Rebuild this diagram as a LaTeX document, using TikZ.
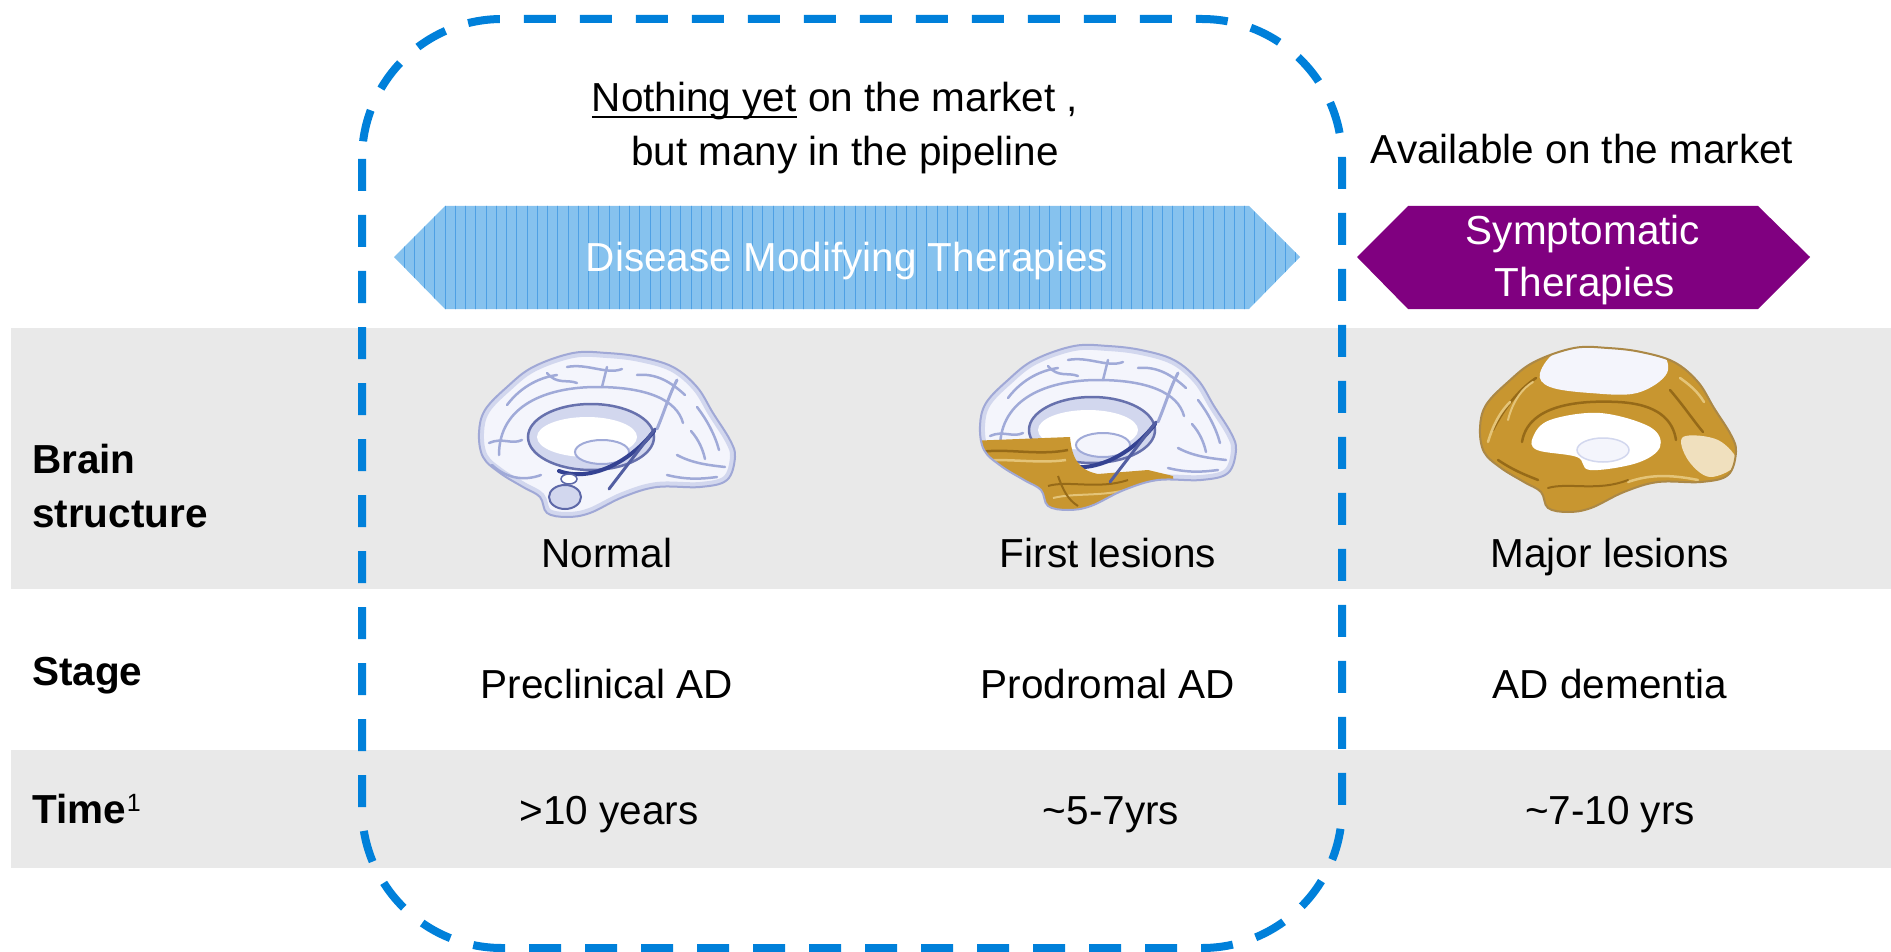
\documentclass[tikz,border=0pt]{standalone}
\usepackage{fontspec}
\setmainfont{Liberation Sans}
\definecolor{bandgray}{RGB}{233,233,233}
\definecolor{dashblue}{RGB}{0,128,218}
\definecolor{dmtfill}{RGB}{134,194,238}
\definecolor{dmtline}{RGB}{78,160,228}
\definecolor{sympurple}{RGB}{128,0,128}
\definecolor{brainwhite}{RGB}{244,245,252}
\definecolor{brainedge}{RGB}{160,168,214}
\definecolor{braingyri}{RGB}{160,170,216}
\definecolor{braindark}{RGB}{52,66,146}
\definecolor{brainmid}{RGB}{210,215,238}
\definecolor{goldA}{RGB}{200,150,48}
\definecolor{goldD}{RGB}{150,106,24}
\definecolor{goldL}{RGB}{228,196,120}
\definecolor{creamA}{RGB}{240,224,190}
\newsavebox\ulbox
\newcommand\myul[1]{\sbox\ulbox{#1}\rlap{\rule[-6.5pt]{\wd\ulbox}{2.5pt}}\usebox\ulbox}
\tikzset{
  brainshape/.style={insert path={plot[smooth cycle,tension=0.6] coordinates{(-128,-2) (-122,-25) (-100,-48) (-74,-68) (-34,-82) (0,-82) (33,-78) (66,-68) (90,-48) (106,-22) (123,5) (128,22) (120,45) (93,52) (50,52) (16,62) (-17,78) (-40,82) (-60,78) (-67,62) (-84,52) (-107,38) (-124,22)}}},
  gyrus/.style={braingyri, line width=2.5pt, line cap=round},
  txt/.style={font=\fontsize{40.5}{50}\selectfont, inner sep=0pt, anchor=base},
  lbl/.style={font=\fontsize{40.5}{50}\selectfont\bfseries, inner sep=0pt, anchor=base west},
}
\newcommand\brainbg{\fill[brainwhite,brainshape];
  \begin{scope}\clip[brainshape]; \draw[brainmid, line width=10pt, brainshape];\end{scope}}
\newcommand\braingyrilines{%
  \draw[gyrus] (-100,-30) .. controls (-85,-50) and (-65,-58) .. (-50,-60);
  \draw[gyrus] (-40,-68) .. controls (-20,-72) and (0,-60) .. (15,-66);
  \draw[gyrus] (30,-60) .. controls (50,-62) and (65,-52) .. (78,-40);
  \draw[gyrus] (90,-28) .. controls (100,-15) and (108,0) .. (112,15);
  \draw[gyrus] (-118,8) .. controls (-105,2) and (-95,10) .. (-85,5);
  \draw[gyrus] (70,20) .. controls (85,28) and (100,30) .. (118,32);
  \draw[gyrus] (60,40) .. controls (80,45) and (95,44) .. (110,42);
  \draw[gyrus] (-108,20) .. controls (-108,-30) and (-60,-48) .. (-10,-48) .. controls (40,-48) and (70,-35) .. (76,-12);
  \draw[gyrus] (-5,-48) -- (0,-68);
  \draw[gyrus] (-115,30) .. controls (-100,44) and (-82,46) .. (-66,40);
  \draw[gyrus] (-60,-62) .. controls (-50,-50) and (-40,-56) .. (-30,-52);
  \draw[gyrus] (84,-4) .. controls (92,5) and (96,15) .. (98,24);
}
\newcommand\braincc{%
  \filldraw[fill=brainmid, draw=braindark!75, line width=2.5pt] (-16,2) ellipse [x radius=63pt, y radius=33pt];
  \fill[white] (-20,2) ellipse [x radius=50pt, y radius=20pt];
  \filldraw[fill=brainwhite, draw=braingyri, line width=2pt] (-5,17) ellipse [x radius=27pt, y radius=12pt];
}
\newcommand\brainlow{%
  \draw[braindark, line width=4pt, line cap=round] (-48,36) .. controls (-15,48) and (25,25) .. (47,-4);
  \draw[braingyri, line width=3pt, line cap=round] (50,-6) .. controls (58,-25) and (62,-40) .. (70,-55);
  \filldraw[fill=brainmid, draw=braindark!80, line width=2pt] (-42,62) ellipse [x radius=16pt, y radius=12pt];
  \filldraw[fill=white, draw=braindark!80, line width=1.5pt] (-38,44) ellipse [x radius=8pt, y radius=5pt];
}
\newcommand\braindiag{\draw[braindark!85, line width=3pt, line cap=round] (2,54) -- (48,-6);}
\newcommand\brainrim{\draw[brainedge, line width=2pt, brainshape];}
\begin{document}
\begin{tikzpicture}[x=1pt,y=-1pt]
\useasboundingbox (0,0) rectangle (1891,952);
% grey bands
\fill[bandgray] (11,328) rectangle (1891,589);
\fill[bandgray] (11,750) rectangle (1891,868);
% disease modifying therapies arrow
\fill[dmtfill] (394,257) -- (445,206) -- (1249,206) -- (1300,257) -- (1249,309) -- (445,309) -- cycle;
\begin{scope}
  \clip (394,257) -- (445,206) -- (1249,206) -- (1300,257) -- (1249,309) -- (445,309) -- cycle;
  \foreach \i in {-5,...,84} \draw[dmtline, line width=1pt] ({445+\i*10.25},200) -- ++(0,115);
\end{scope}
% symptomatic therapies arrow
\fill[sympurple] (1357,257) -- (1408,206) -- (1758,206) -- (1810,257) -- (1758,309) -- (1408,309) -- cycle;
% normal brain
\begin{scope}[shift={(607,435)}]
  \brainbg \braingyrilines \braincc \brainlow \braindiag \brainrim
\end{scope}
% first lesions brain
\begin{scope}[shift={(1108,428)}]
  \brainbg \braingyrilines \braincc \brainlow
  \begin{scope}
    \clip[brainshape];
    \fill[goldA] (-140,13) -- (-38,9) .. controls (-36,30) and (-30,42) .. (-10,46) -- (40,42) -- (65,48) -- (70,100) -- (-140,100) -- cycle;
    \draw[goldD, line width=2.5pt] (-128,24) .. controls (-100,20) and (-70,28) .. (-40,22);
    \draw[goldL, line width=2.5pt] (-126,33) .. controls (-100,30) and (-70,36) .. (-42,32);
    \draw[goldD, line width=2pt] (-60,58) .. controls (-40,52) and (-10,62) .. (20,52);
    \draw[goldL, line width=2pt] (-55,70) .. controls (-30,64) and (0,70) .. (30,58);
    \draw[goldD, line width=2pt] (-50,48) .. controls (-45,62) and (-40,72) .. (-30,78);
  \end{scope}
  \braindiag \brainrim
\end{scope}
% major lesions brain
\begin{scope}[shift={(1608,430)}]
  \fill[goldA, brainshape];
  \begin{scope}
    \clip[brainshape];
    \fill[brainwhite] plot[smooth cycle, tension=0.6] coordinates{(-68,-57) (-48,-80) (0,-86) (49,-80) (59,-57) (29,-37) (-18,-37) (-58,-43)};
    \fill[creamA] plot[smooth cycle, tension=0.6] coordinates{(75,7) (110,10) (129,33) (102,47) (80,30)};
    \draw[goldD, line width=2.5pt, line cap=round] (-115,0) .. controls (-105,-20) and (-90,-40) .. (-72,-52);
    \draw[goldD, line width=2.5pt, line cap=round] (-110,30) .. controls (-95,40) and (-85,44) .. (-70,50);
    \draw[goldD, line width=2.5pt, line cap=round] (-86,12) .. controls (-80,-25) and (-30,-30) .. (10,-28) .. controls (50,-26) and (65,-10) .. (68,10);
    \draw[goldD, line width=2.5pt, line cap=round] (62,-40) .. controls (75,-25) and (85,-10) .. (95,2);
    \draw[goldL, line width=2.5pt, line cap=round] (-120,12) .. controls (-115,-5) and (-108,-18) .. (-98,-28);
    \draw[goldL, line width=2.5pt, line cap=round] (72,-52) .. controls (82,-45) and (90,-38) .. (96,-28);
    \draw[goldL, line width=2.5pt, line cap=round] (20,52) .. controls (40,45) and (60,44) .. (90,50);
    \draw[goldD, line width=2pt, line cap=round] (-60,58) .. controls (-40,52) and (-10,62) .. (20,50);
    \draw[goldL, line width=2pt, line cap=round] (-100,-10) .. controls (-95,-30) and (-85,-42) .. (-75,-48);
  \end{scope}
  \fill[white] plot[smooth cycle, tension=0.6] coordinates{(-75,7) (-58,-10) (-8,-17) (42,-3) (52,17) (29,33) (-18,40) (-31,27) (-71,20)};
  \filldraw[fill=brainwhite, draw=brainmid, line width=1.5pt] (-5,20) ellipse [x radius=26pt, y radius=12pt];
  \draw[goldD!80, line width=2pt, brainshape];
\end{scope}
% texts
\node[txt] (topline1) at (835,112) {\myul{Nothing yet} on the market ,};
\node[txt] (topline2) at (845,166) {but many in the pipeline};
\node[txt] (avail) at (1582,164) {Available on the market};
\node[txt, white] (dmt) at (847,272) {Disease Modifying Therapies};
\node[txt, white] (sym1) at (1583,245) {Symptomatic};
\node[txt, white] (sym2) at (1585,297) {Therapies};
\node[lbl] (rowbrain1) at (32,473) {Brain};
\node[lbl] (rowbrain2) at (32,527) {structure};
\node[lbl] (rowstage) at (32,685) {Stage};
\node[lbl] (rowtime) at (32,823) {Time\hspace{1pt}\raisebox{12pt}{\fontsize{25}{25}\mdseries\selectfont 1}};
\node[txt] (c1r1) at (607,567) {Normal};
\node[txt] (c2r1) at (1108,567) {First lesions};
\node[txt] (c3r1) at (1610,567) {Major lesions};
\node[txt] (c1r2) at (607,698) {Preclinical AD};
\node[txt] (c2r2) at (1108,698) {Prodromal AD};
\node[txt] (c3r2) at (1610,698) {AD dementia};
\node[txt] (c1r3) at (609,824) {>10 years};
\node[txt] (c2r3) at (1111,824) {\textasciitilde5-7yrs};
\node[txt] (c3r3) at (1610,824) {\textasciitilde7-10 yrs};
% dashed frame
\draw[dashblue, line width=8pt, dash pattern=on 32pt off 24pt, rounded corners=140pt] (362,19) rectangle (1342,948);
\end{tikzpicture}
\end{document}
